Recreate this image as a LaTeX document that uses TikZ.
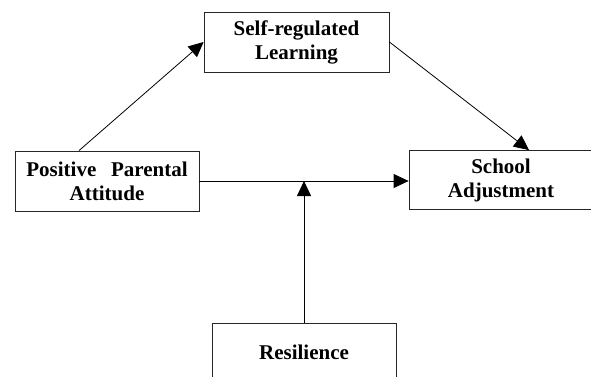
\documentclass[tikz,border=0pt]{standalone}
\usepackage{fontspec}
\setmainfont{Liberation Serif}
\usetikzlibrary{arrows.meta,positioning}

\begin{document}
\begin{tikzpicture}[x=1pt,y=-1pt,every node/.style={transform shape}]
  \tikzstyle{var}=[draw=black!85,line width=0.8pt,minimum width=184pt,minimum height=59pt,
    align=center,inner sep=0pt,font=\fontsize{21}{24}\selectfont\bfseries]
  \tikzstyle{path}=[-{Triangle[length=15pt,width=14pt]},black,line width=0.8pt]

  % -- page frame --
  \clip (0,0) rectangle (591,377);

  % -- Variables --
  \node[var,minimum width=185pt,minimum height=60pt] (srl) at (296.5,42) {Self-regulated\\ Learning};
  \node[var,minimum height=60pt] (ppa) at (107,181) {Positive\hspace{0.7em}Parental\\ Attitude};
  \node[var] (sa)  at (501,180) {School\\ Adjustment};
  \node[var,minimum height=58pt] (res) at (304,352) {Resilience};

  % -- Paths --
  \draw[path] ([xshift=-28pt]ppa.north) -- (srl.west);
  \draw[path] (srl.east) -- ([xshift=28pt]sa.north);
  \draw[path] (ppa.east) -- (ppa.east -| sa.west);
  \draw[path] (res.north) -- (res.north |- ppa.east);
\end{tikzpicture}
\end{document}
